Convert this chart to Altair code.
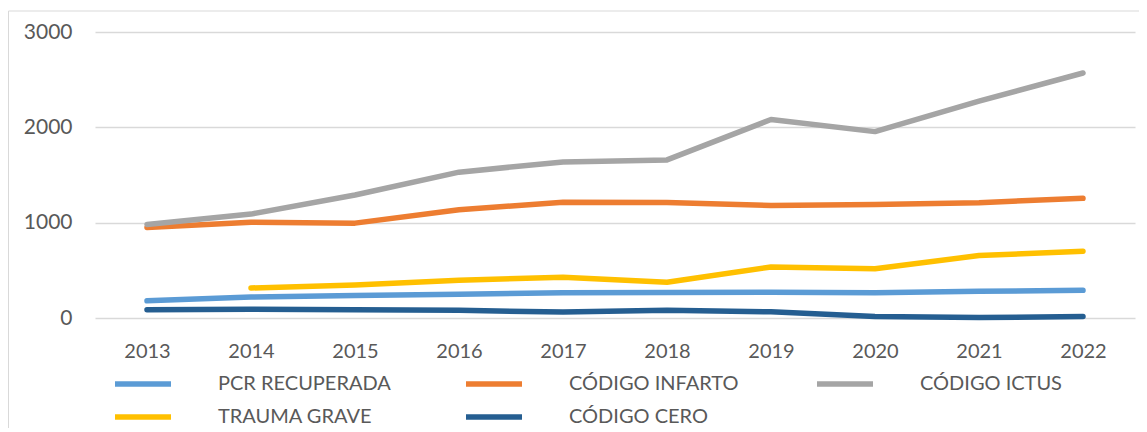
import altair as alt
import pandas as pd

years = ["2013", "2014", "2015", "2016", "2017", "2018", "2019", "2020", "2021", "2022"]
pcr = [180, 220, 237, 250, 265, 268, 270, 265, 280, 290]
infarto = [950, 1005, 995, 1135, 1215, 1212, 1180, 1190, 1210, 1255]
ictus = [980, 1090, 1290, 1530, 1637, 1658, 2082, 1955, 2275, 2570]
trauma = [None, 315, 345, 395, 428, 375, 535, 517, 655, 700]
cero = [87, 92, 87, 80, 63, 80, 65, 15, 5, 15]

series_names = ["PCR RECUPERADA", "CÓDIGO INFARTO", "CÓDIGO ICTUS", "TRAUMA GRAVE", "CÓDIGO CERO"]
series_values = [pcr, infarto, ictus, trauma, cero]
series_colors = ["#5B9BD5", "#ED7D31", "#A5A5A5", "#FFC000", "#255E91"]
y_ticks = [0, 1000, 2000, 3000]

rows = []
for name, vals in zip(series_names, series_values):
    for yr, v in zip(years, vals):
        if v is not None:
            rows.append({"year": yr, "value": v, "series": name})
df = pd.DataFrame(rows)

FONT = "Lato"
TXT = "#595959"

lines = alt.Chart(df).mark_line(strokeWidth=5.5, strokeCap="round", strokeJoin="round").encode(
    x=alt.X("year:O", sort=years,
            scale=alt.Scale(type="point", padding=0.5),
            axis=alt.Axis(title=None, labelAngle=0, ticks=False, domain=False,
                          grid=False, labelPadding=23, labelFontSize=20, labelFont=FONT,
                          labelColor=TXT)),
    y=alt.Y("value:Q", scale=alt.Scale(domain=[0, 3000], nice=False),
            axis=alt.Axis(title=None, values=y_ticks, ticks=False, domain=False,
                          grid=True, gridColor="#d9d9d9", gridWidth=1.5,
                          labelPadding=23, labelFontSize=21, labelFont=FONT,
                          labelColor=TXT, format="d")),
    color=alt.Color("series:N", sort=series_names,
                    scale=alt.Scale(domain=series_names, range=series_colors),
                    legend=alt.Legend(title=None, orient="none", legendX=17, legendY=337,
                                      columns=3, direction="horizontal", gridAlign="all",
                                      symbolType="stroke", symbolSize=3136,
                                      symbolStrokeWidth=5.5, clipHeight=30, rowPadding=3,
                                      columnPadding=72, labelOffset=44, labelFontSize=20,
                                      labelFont=FONT, labelColor=TXT, labelLimit=400,
                                      padding=0)),
    order=alt.Order("series_order:Q"),
).transform_calculate(
    series_order="indexof(" + str(series_names) + ", datum.series)"
)

border = alt.Chart(alt.Data(values=[{}])).mark_rect(
    filled=False, stroke="#d9d9d9", strokeWidth=1
).encode(
    x=alt.value(-86.5), x2=alt.value(1200), y=alt.value(-21), y2=alt.value(600)
)

chart = alt.layer(border, lines).properties(
    width=1040, height=286,
    autosize=alt.AutoSizeParams(type="none"),
    padding={"left": 87, "top": 24, "right": 4, "bottom": 110},
    background="white",
).configure_view(
    strokeWidth=0, stroke="transparent"
).configure_axis(
    domain=False, ticks=False
)

chart.save("out.html", embed_options={"renderer": "svg", "actions": False})
